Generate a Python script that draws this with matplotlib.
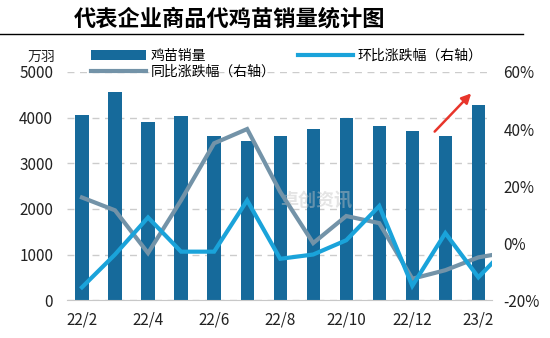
import numpy as np
import matplotlib.pyplot as plt

plt.rcParams['font.family'] = ['Noto Sans CJK SC', 'DejaVu Sans']

# 月度数据：2022年2月 - 2023年2月（折线多一个3月的点，被坐标轴截断）
months = ['22/2', '22/3', '22/4', '22/5', '22/6', '22/7', '22/8',
          '22/9', '22/10', '22/11', '22/12', '23/1', '23/2']
sales = [4050, 4560, 3900, 4030, 3600, 3490, 3600,
         3750, 4000, 3820, 3700, 3600, 4280]
mom = [-15.5, -4, 9, -3, -3, 15, -5.5, -4, 1, 13, -15, 3.5, -12, 0]
yoy = [16, 11.5, -3.5, 15, 35, 40, 18, 0, 9.5, 7, -12.5, -9.5, -5, -3]

bar_color = '#166a9b'
mom_color = '#1aa3da'
yoy_color = '#7393a8'

fig = plt.figure(figsize=(5.5, 3.38), dpi=100)
ax = fig.add_axes([0.122, 0.112, 0.773, 0.675])
ax2 = ax.twinx()

x = np.arange(len(months))
xl = np.arange(len(mom))
b = ax.bar(x, sales, width=0.4, color=bar_color, label='鸡苗销量', zorder=2)
l2, = ax2.plot(xl, yoy, color=yoy_color, lw=3, label='同比涨跌幅（右轴）',
               solid_joinstyle='miter', zorder=3)
l1, = ax2.plot(xl, mom, color=mom_color, lw=3, label='环比涨跌幅（右轴）',
               solid_joinstyle='miter', zorder=4)

ax.set_xlim(-0.45, 12.42)
ax.set_ylim(0, 5000)
ax2.set_ylim(-20, 60)
ax.set_yticks(range(0, 5001, 1000))
ax2.set_yticks(range(-20, 61, 20))
ax2.set_yticklabels([f'{v}%' for v in range(-20, 61, 20)])
ax.set_xticks(x[::2])
ax.set_xticklabels(months[::2])

for a in (ax, ax2):
    for s in ('top', 'left', 'right'):
        a.spines[s].set_visible(False)
    a.tick_params(length=0, labelsize=11, colors='#222222')
ax2.spines['bottom'].set_visible(False)
ax.spines['bottom'].set_color('#c8c8c8')
ax.tick_params(axis='x', pad=8)
ax.tick_params(axis='y', pad=10)
ax2.tick_params(axis='y', pad=8)
ax.grid(axis='y', color='#cccccc', ls=(0, (5, 4)), lw=1, zorder=0)
ax.set_axisbelow(True)

# 水印
ax.text(0.5, 0.44, '卓创资讯', transform=ax.transAxes, fontsize=13,
        color='#c4c4c4', alpha=0.45, ha='left', va='center', fontweight='bold')

ax2.annotate('', xy=(0.955, 0.915), xytext=(0.86, 0.73),
             xycoords='axes fraction',
             arrowprops=dict(arrowstyle='-|>', color='#e8352b', lw=1.8,
                             mutation_scale=14))

fig.legend([b, l2, l1], ['鸡苗销量', '同比涨跌幅（右轴）', '环比涨跌幅（右轴）'],
           ncol=2, loc='upper left', bbox_to_anchor=(0.165, 0.855),
           frameon=False, fontsize=10, handlelength=4, handleheight=0.8,
           columnspacing=1.6, labelspacing=0.15, handletextpad=0.3,
           borderaxespad=0, borderpad=0)
fig.text(0.05, 0.833, '万羽', fontsize=10, color='#222222', va='center')

fig.text(0.418, 0.945, '代表企业商品代鸡苗销量统计图', fontsize=16,
         fontweight='bold', ha='center', va='center')
fig.add_artist(plt.Line2D([0, 0.95], [0.898, 0.898], color='black', lw=1))

fig.savefig('out.png')
